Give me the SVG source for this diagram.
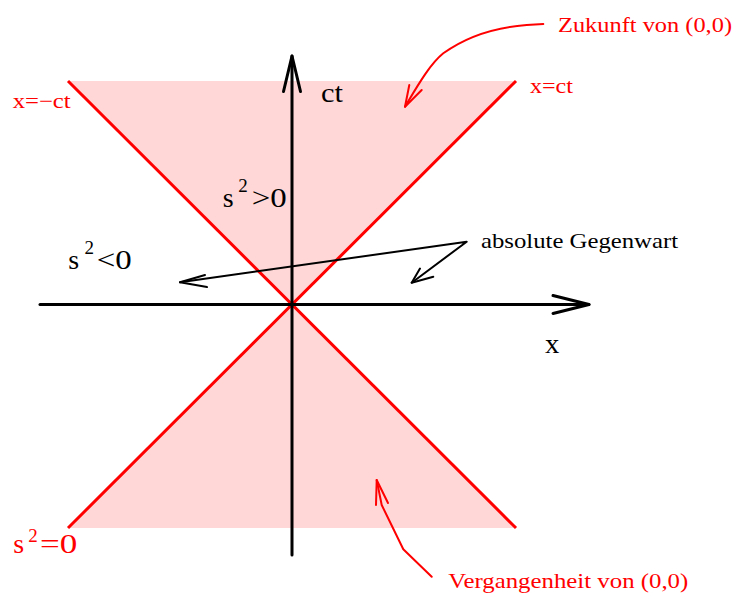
<svg xmlns="http://www.w3.org/2000/svg" width="737" height="596" viewBox="0 0 737 596">
<style>
text{font-family:"Liberation Serif","Times New Roman",serif}
.blk{fill:#000}
.red{fill:#ff0000}
.cone{fill:#ffd7d7;stroke:none}
.edge{stroke:#ff0000;stroke-width:3;fill:none}
.axis{stroke:#000;stroke-width:3;fill:none;stroke-linecap:round;stroke-linejoin:round}
.ann{stroke:#000;stroke-width:2;fill:none;stroke-linecap:round;stroke-linejoin:round}
.annr{stroke:#ff0000;stroke-width:2;fill:none;stroke-linecap:round;stroke-linejoin:round}
</style>
<rect width="737" height="596" fill="#fff"/>
<g id="future-cone">
<polygon class="cone" points="68,81 516,81 292,304.5"/>
</g>
<g id="past-cone">
<polygon class="cone" points="292,304.5 516,528 68,528"/>
</g>
<g id="light-lines">
<line class="edge" x1="68" y1="81" x2="516" y2="528"/>
<line class="edge" x1="516" y1="81" x2="68" y2="528"/>
</g>
<g id="ct-axis">
<line class="axis" x1="292" y1="555" x2="292" y2="56"/>
<polyline class="axis" points="283.5,91.5 292,56 300.5,91.5"/>
<text class="blk" x="321" y="101.7" font-size="28" textLength="22" lengthAdjust="spacingAndGlyphs">ct</text>
</g>
<g id="x-axis">
<line class="axis" x1="40" y1="304.5" x2="589" y2="304.5"/>
<polyline class="axis" points="553,295.5 589,304.5 553,313.5"/>
<text class="blk" x="545" y="352.7" font-size="28" textLength="14.3" lengthAdjust="spacingAndGlyphs">x</text>
</g>
<g id="timelike-label">
<text class="blk" font-size="28"><tspan x="222.7" y="206.7">s</tspan><tspan x="238.3" y="191.7" font-size="19">2</tspan><tspan x="251.7" y="206.7" textLength="35" lengthAdjust="spacingAndGlyphs">&gt;0</tspan></text>
</g>
<g id="spacelike-label">
<text class="blk" font-size="28"><tspan x="68.3" y="269">s</tspan><tspan x="84.5" y="254" font-size="19">2</tspan><tspan x="96.7" y="269" textLength="35" lengthAdjust="spacingAndGlyphs">&lt;0</tspan></text>
</g>
<g id="lightlike-label">
<text class="red" font-size="28"><tspan x="13.3" y="553.3">s</tspan><tspan x="28.3" y="541.5" font-size="19">2</tspan><tspan x="40" y="553.3" textLength="37.3" lengthAdjust="spacingAndGlyphs">=0</tspan></text>
</g>
<g id="label-x-minus-ct">
<text class="red" x="12.7" y="108.3" font-size="21" textLength="58" lengthAdjust="spacingAndGlyphs">x=−ct</text>
</g>
<g id="label-x-ct">
<text class="red" x="530" y="93.3" font-size="21" textLength="43" lengthAdjust="spacingAndGlyphs">x=ct</text>
</g>
<g id="label-zukunft">
<text class="red" x="558" y="31.7" font-size="22" textLength="174" lengthAdjust="spacingAndGlyphs">Zukunft von (0,0)</text>
</g>
<g id="label-vergangenheit">
<text class="red" x="448.3" y="588.3" font-size="22" textLength="240" lengthAdjust="spacingAndGlyphs">Vergangenheit von (0,0)</text>
</g>
<g id="label-gegenwart">
<text class="blk" x="481" y="248.3" font-size="22" textLength="197" lengthAdjust="spacingAndGlyphs">absolute Gegenwart</text>
</g>
<g id="connectors">
<polyline class="ann" points="180,282.3 466.7,241.7 411.7,282.7"/>
<polyline class="ann" points="205,275 180,282.3 207,287"/>
<polyline class="ann" points="420,268.5 411.7,282.7 433.3,276.7"/>
<path class="annr" d="M543.3,24 L526.7,25 C500,27 470,34 443.3,53.3 C430,64 418,85 405,106.7"/>
<polyline class="annr" points="409.3,85 405,106.7 421.7,90"/>
<polyline class="annr" points="431.7,576.7 403.3,549.3 381.7,505 376.7,480"/>
<polyline class="annr" points="376,505 376.7,480 388,503"/>
</g>
</svg>
